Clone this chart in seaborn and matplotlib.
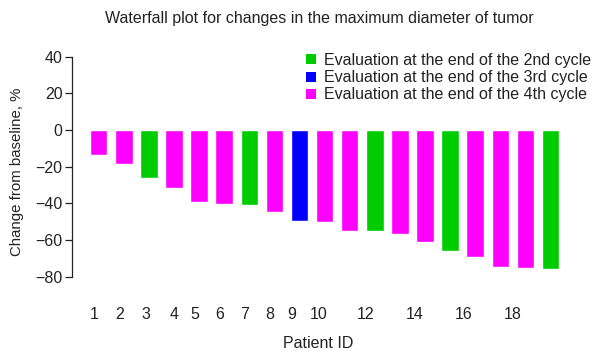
import matplotlib
matplotlib.use("Agg")
import matplotlib.pyplot as plt
from matplotlib.patches import Patch
import seaborn as sns
import pandas as pd

# change from baseline (%) per patient, in plotting order
patients = list(range(1, 20))
change = [-13.6, -18.4, -26.2, -31.8, -39.1, -40.2, -41.1, -44.5, -49.5, -50.4,
          -54.9, -55.3, -56.9, -60.9, -66.2, -69.3, -74.5, -75.5, -76.0]
cycle = ["4th", "4th", "2nd", "4th", "4th", "4th", "2nd", "4th", "3rd", "4th",
         "4th", "2nd", "4th", "4th", "2nd", "4th", "4th", "4th", "2nd"]

groups = ["2nd", "3rd", "4th"]
labels = ["Evaluation at the end of the 2nd cycle",
          "Evaluation at the end of the 3rd cycle",
          "Evaluation at the end of the 4th cycle"]
colors = {"2nd": "#00cc00", "3rd": "#0000ff", "4th": "#ff00ff"}

tick_labels = ["1", "2", "3", "4", "5", "6", "7", "8", "9", "10", "12", "14", "16", "18"]
tick_pos = [-0.18, 0.85, 1.88, 2.99, 3.83, 4.83, 5.82, 6.82, 7.70, 8.78,
            10.65, 12.6, 14.55, 16.5]

df = pd.DataFrame({"patient": patients, "change": change, "cycle": cycle})

sns.set_style("white")
plt.rcParams["font.family"] = ["Liberation Sans", "DejaVu Sans"]
fs = 11.5
txt = "#222222"

fig = plt.figure(figsize=(5.95, 3.51), dpi=100)
ax = fig.add_axes([0.1215, 0.1858, 0.846, 0.679])

sns.barplot(data=df, x="patient", y="change", hue="cycle", hue_order=groups,
            palette=colors, saturation=1, dodge=False, width=0.7, ax=ax, legend=False)

ax.set_xlim(-1.05, 19.0)
ax.set_ylim(-85, 45)
ax.set_yticks([40, 20, 0, -20, -40, -60, -80])
ax.set_xticks(tick_pos)
ax.set_xticklabels(tick_labels)

for s in ["top", "right", "bottom"]:
    ax.spines[s].set_visible(False)
ax.spines["left"].set_bounds(-80, 40)
ax.spines["left"].set_color(txt)
ax.spines["left"].set_linewidth(0.9)

ax.tick_params(axis="y", length=5, width=0.9, color=txt, labelcolor=txt,
               labelsize=fs, pad=2, left=True)
ax.tick_params(axis="x", length=0, labelsize=fs, pad=15, labelcolor=txt)

ax.set_xlabel("Patient ID", fontsize=fs, color=txt, va="center")
ax.xaxis.set_label_coords((318 - 72.3) / 503.3, (285.8 - 344) / 238.3)
ax.set_ylabel("Change from baseline, %", fontsize=10.8, color=txt, va="center")
ax.yaxis.set_label_coords((17 - 72.3) / 503.3, (285.8 - 172) / 238.3)

fig.text(319 / 595, 1 - 18 / 351, "Waterfall plot for changes in the maximum diameter of tumor",
         fontsize=fs, color=txt, ha="center", va="center")

handles = [Patch(facecolor=colors[g], edgecolor="none") for g in groups]
ax.legend(handles, labels, loc="upper left", bbox_to_anchor=(306 / 595, 1 - 53 / 351),
          bbox_transform=fig.transFigure, frameon=False, fontsize=fs,
          handlelength=0.6, handleheight=0.6, handletextpad=0.55,
          labelspacing=0.14, borderpad=0, borderaxespad=0, labelcolor=txt)

fig.savefig("out.png", dpi=100)
